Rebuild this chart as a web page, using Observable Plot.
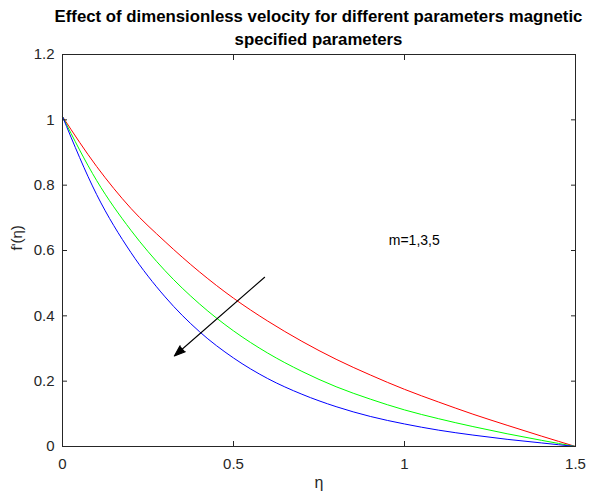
<!DOCTYPE html>
<html>
<head>
<meta charset="utf-8">
<script src="https://cdn.jsdelivr.net/npm/d3@7"></script>
<script src="https://cdn.jsdelivr.net/npm/@observablehq/plot@0.6"></script>
<style>
  html, body { margin: 0; padding: 0; background: #fff; }
  #wrap { position: relative; width: 589px; height: 495px; overflow: hidden; font-family: "Liberation Sans", Arial, sans-serif; }
  #title { position: absolute; left: 0; top: 5px; width: 637px; text-align: center; font-weight: bold; font-size: 16.8px; line-height: 23px; color: #000; white-space: nowrap; z-index: 2; }
  #chart { position: absolute; left: 0; top: 0; }
</style>
</head>
<body>
<div id="wrap">
  <div id="title">Effect of dimensionless velocity for different parameters magnetic<br>specified parameters</div>
  <div id="chart"></div>
</div>
<script>
// η sample positions
const eta = [0, 0.1, 0.2, 0.3, 0.4, 0.5, 0.6, 0.7, 0.8, 0.9, 1.0, 1.1, 1.2, 1.3, 1.4, 1.5];
// f'(η), one series per m
const fM1 = [1.01, 0.857, 0.729, 0.627, 0.535, 0.454, 0.384, 0.322, 0.267, 0.219, 0.175, 0.136, 0.099, 0.065, 0.032, 0];
const fM3 = [1.01, 0.814, 0.662, 0.538, 0.437, 0.354, 0.286, 0.230, 0.183, 0.145, 0.112, 0.085, 0.061, 0.039, 0.019, 0];
const fM5 = [1.01, 0.771, 0.594, 0.458, 0.352, 0.271, 0.208, 0.160, 0.122, 0.092, 0.069, 0.050, 0.035, 0.022, 0.011, 0];
const seriesNames = ["m=1", "m=3", "m=5"];
const seriesColors = ["#ff0000", "#00ff00", "#0000ff"];
const xTicks = [0, 0.5, 1, 1.5];
const yTicks = [0, 0.2, 0.4, 0.6, 0.8, 1, 1.2];
// annotation arrow (data coordinates) and label
const arrowData = [{x1: 0.591, y1: 0.518, x2: 0.327, y2: 0.277}];
const noteData = [{x: 0.954, y: 0.63, text: "m=1,3,5"}];

const allSeries = [fM1, fM3, fM5];
const rows = [];
allSeries.forEach((vals, i) => vals.forEach((v, j) => rows.push({eta: eta[j], f: v, m: seriesNames[i]})));

const chart = Plot.plot({
  width: 589,
  height: 495,
  marginLeft: 62,
  marginRight: 14,
  marginTop: 54,
  marginBottom: 49,
  style: {fontFamily: "'Liberation Sans', Arial, sans-serif", fontSize: "15px", color: "#262626", background: "transparent"},
  x: {domain: [0, 1.5], axis: null},
  y: {domain: [0, 1.2], axis: null},
  color: {domain: seriesNames, range: seriesColors},
  marks: [
    Plot.line(rows, {x: "eta", y: "f", stroke: "m", z: "m", curve: "monotone-x", strokeWidth: 1}),
    Plot.frame({stroke: "#262626"}),
    Plot.axisX({anchor: "bottom", ticks: xTicks, tickSize: -5, tickPadding: 17, tickFormat: d => String(d), label: null, fontSize: 15}),
    Plot.axisX({anchor: "top", ticks: xTicks, tickSize: -5, tickFormat: () => "", label: null}),
    Plot.axisY({anchor: "left", ticks: yTicks, tickSize: -5, tickPadding: 13, tickFormat: d => String(d), label: null, fontSize: 15}),
    Plot.axisY({anchor: "right", ticks: yTicks, tickSize: -5, tickFormat: () => "", label: null}),
    Plot.text(["η"], {frameAnchor: "bottom", dy: 41, fill: "#262626", fontSize: 16}),
    Plot.text(["f'(η)"], {frameAnchor: "left", dx: -45, rotate: -90, fill: "#262626", fontSize: 15}),
    Plot.arrow(arrowData, {x1: "x1", y1: "y1", x2: "x2", y2: "y2", stroke: "#000", fill: "#000", headLength: 16, headAngle: 40, strokeWidth: 1.1}),
    Plot.text(noteData, {x: "x", y: "y", text: "text", textAnchor: "start", fill: "#000", fontSize: 14})
  ]
});
document.getElementById("chart").appendChild(chart);
</script>
</body>
</html>
